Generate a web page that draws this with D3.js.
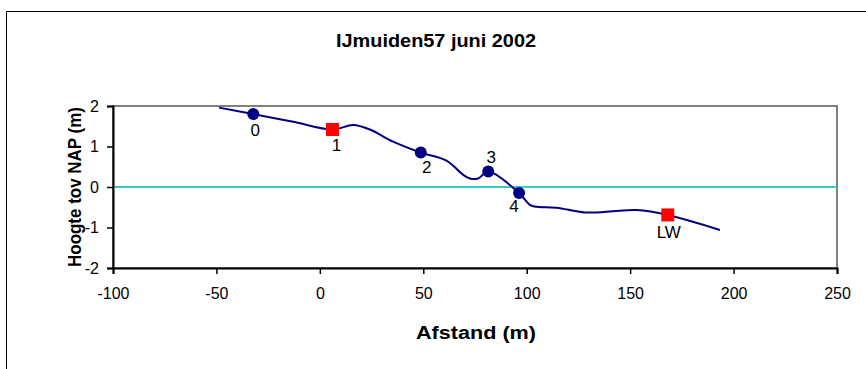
<!DOCTYPE html>
<html>
<head>
<meta charset="utf-8">
<script src="https://cdn.jsdelivr.net/npm/d3@7"></script>
<style>
  body { margin: 0; background: #fff; }
  text { font-family: Arial, "Liberation Sans", sans-serif; }
</style>
</head>
<body>
<svg id="chart" width="866" height="369"></svg>
<script>
// profile (afstand m, hoogte m)
const profX = [-48.7, -32.2, -12.9, 6.1, 16.1, 24.2, 35.4, 48.8, 61.2, 69.3, 72.5, 76.5, 81.4, 96.3, 101.5, 104.9, 114.4, 128.1, 143.4, 153.1, 168.2, 193.4];
const profY = [1.96, 1.80, 1.61, 1.42, 1.53, 1.42, 1.12, 0.85, 0.65, 0.30, 0.21, 0.21, 0.38, -0.15, -0.44, -0.49, -0.51, -0.63, -0.59, -0.57, -0.69, -1.06];

// marked points
const markLabels = ["0", "1", "2", "3", "4", "LW"];
const markX = [-32.2, 6.1, 48.8, 81.4, 96.3, 168.2];
const markY = [1.80, 1.42, 0.85, 0.38, -0.15, -0.69];
const markShape = ["circle", "square", "circle", "circle", "circle", "square"];

const xTicks = [-100, -50, 0, 50, 100, 150, 200, 250];
const yTicks = [-2, -1, 0, 1, 2];

const svg = d3.select("#chart");
const pL = 113, pR = 837, pT = 106, pB = 268;

const x = d3.scaleLinear().domain([-100, 250]).range([pL, pR]);
const y = d3.scaleLinear().domain([-2, 2]).range([pB, pT]);

// outer chart frame (cut off at right and bottom)
svg.append("path")
  .attr("d", "M6.5,369 V11.5 H866")
  .attr("fill", "none").attr("stroke", "#000").attr("stroke-width", 1);

svg.append("text").attr("x", 436).attr("y", 47)
  .attr("text-anchor", "middle").attr("font-size", 18).attr("font-weight", "bold")
  .attr("textLength", 200).attr("lengthAdjust", "spacingAndGlyphs")
  .text("IJmuiden57 juni 2002");

// plot area border (gray)
svg.append("rect").attr("x", pL).attr("y", pT)
  .attr("width", pR - pL).attr("height", pB - pT)
  .attr("fill", "none").attr("stroke", "#808080").attr("stroke-width", 2);

// NAP line
svg.append("line").attr("x1", pL).attr("x2", pR)
  .attr("y1", y(0)).attr("y2", y(0))
  .attr("stroke", "#33CCCC").attr("stroke-width", 2);

const xAxis = svg.append("g").attr("transform", `translate(0,${pB})`)
  .call(d3.axisBottom(x).tickValues(xTicks).tickSize(6).tickPadding(14).tickFormat(d => String(d)));
const yAxis = svg.append("g").attr("transform", `translate(${pL},0)`)
  .call(d3.axisLeft(y).tickValues(yTicks).tickSize(6).tickPadding(8).tickFormat(d => String(d)));
[xAxis, yAxis].forEach(g => {
  g.select(".domain").attr("stroke", "#000").attr("stroke-width", 2);
  g.selectAll(".tick line").attr("stroke", "#000").attr("stroke-width", 1.5);
  g.selectAll(".tick text").attr("font-size", 16).attr("fill", "#000")
    .attr("font-family", "Arial, 'Liberation Sans', sans-serif");
});

svg.append("text").attr("x", 476).attr("y", 339)
  .attr("text-anchor", "middle").attr("font-size", 18).attr("font-weight", "bold")
  .attr("textLength", 120).attr("lengthAdjust", "spacingAndGlyphs")
  .text("Afstand (m)");
svg.append("text").attr("transform", `translate(81,${(pT + pB) / 2}) rotate(-90)`)
  .attr("text-anchor", "middle").attr("font-size", 18).attr("font-weight", "bold")
  .attr("textLength", 160).attr("lengthAdjust", "spacingAndGlyphs")
  .text("Hoogte tov NAP (m)");

// profile line
const pts = profX.map((d, i) => [d, profY[i]]);
svg.append("path").datum(pts)
  .attr("fill", "none").attr("stroke", "#000080").attr("stroke-width", 2)
  .attr("d", d3.line().x(d => x(d[0])).y(d => y(d[1])).curve(d3.curveCatmullRom.alpha(0.5)));

const marks = markLabels.map((l, i) => ({ label: l, x: markX[i], y: markY[i], shape: markShape[i] }));
const labelOffset = { "0": [2, 22], "1": [4, 22], "2": [6, 20], "3": [3, -9], "4": [-5, 19], "LW": [1, 23] };

marks.forEach(m => {
  const cx = x(m.x), cy = y(m.y);
  if (m.shape === "circle") {
    svg.append("circle").attr("cx", cx).attr("cy", cy).attr("r", 6).attr("fill", "#000080");
  } else {
    svg.append("rect").attr("x", cx - 6.5).attr("y", cy - 6.5).attr("width", 13).attr("height", 13).attr("fill", "#FF0000");
  }
  const o = labelOffset[m.label];
  svg.append("text").attr("x", cx + o[0]).attr("y", cy + o[1])
    .attr("text-anchor", "middle").attr("font-size", 17).attr("fill", "#000")
    .text(m.label);
});
</script>
</body>
</html>
